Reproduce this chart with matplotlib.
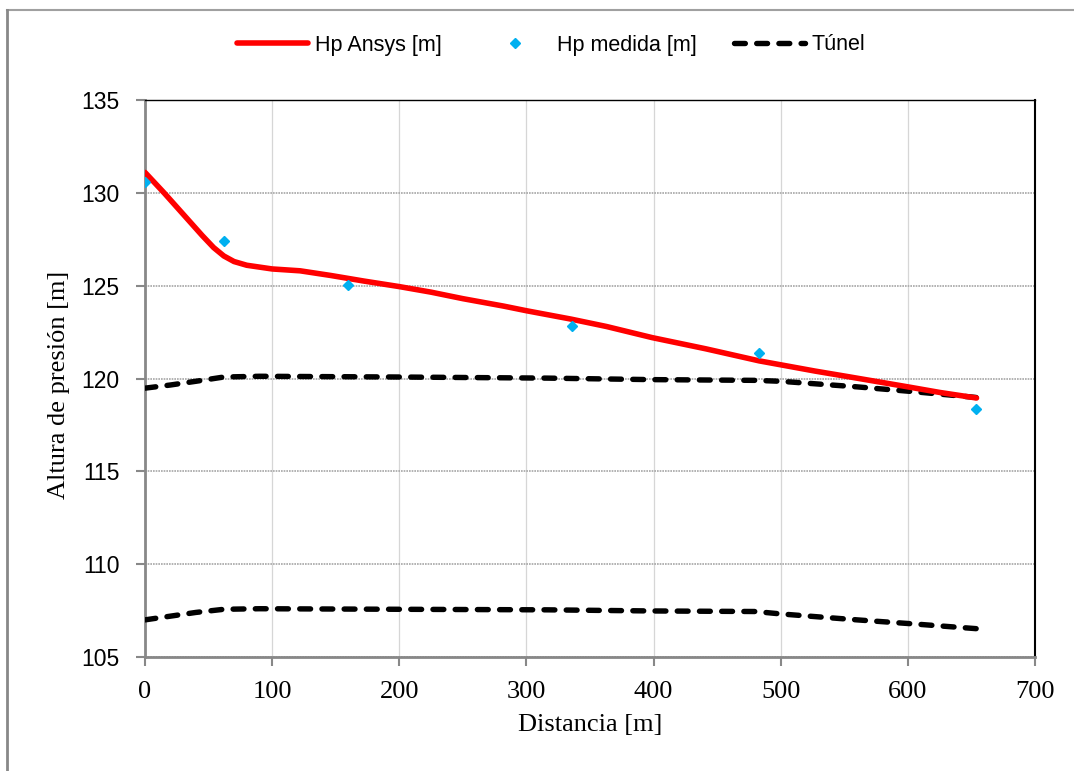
import matplotlib
matplotlib.use("Agg")
import matplotlib.pyplot as plt
from matplotlib.lines import Line2D

# Hp Ansys (simulated pressure head)
ansys_x = [0, 15, 30, 45, 54, 62, 70, 80, 100, 122, 146, 172, 200, 225, 250, 282, 300,
           335, 363, 399, 441, 483, 527, 553, 600, 625, 654]
ansys_y = [131.1, 130.0, 128.85, 127.7, 127.05, 126.6, 126.3, 126.1, 125.9, 125.8,
           125.55, 125.25, 124.95, 124.65, 124.3, 123.9, 123.65, 123.2, 122.8, 122.2,
           121.6, 120.95, 120.4, 120.1, 119.55, 119.25, 118.95]

# Hp medida (measured)
med_x = [0, 62.5, 160, 335.5, 483, 653.5]
med_y = [130.6, 127.4, 125.05, 122.85, 121.37, 118.35]

# tunnel crown / invert
tun_x = [0, 20, 40, 62, 90, 200, 317, 398, 480, 500, 560, 603, 655]
tun_top = [119.48, 119.65, 119.85, 120.08, 120.12, 120.08, 120.02, 119.94, 119.9,
           119.85, 119.55, 119.3, 118.97]
tun_bot = [107.0, 107.2, 107.4, 107.57, 107.6, 107.57, 107.54, 107.48, 107.45,
           107.32, 107.0, 106.79, 106.52]

serif = "Liberation Serif"
sans = "Liberation Sans"

fig = plt.figure(figsize=(10.74, 7.71), dpi=100)
ax = fig.add_axes([145/1074, 1-657/771, 890/1074, 557/771])

ax.plot(ansys_x, ansys_y, color="#FF0000", lw=4.0, solid_capstyle="round",
        solid_joinstyle="round", label="Hp Ansys [m]", zorder=4)
ax.plot(med_x, med_y, ls="none", marker="D", ms=5.3, color="#00B0F0",
        mec="#00B0F0", label="Hp medida [m]", zorder=5)
ax.plot(tun_x, tun_top, color="black", lw=3.9, dashes=(2.0, 2.1),
        dash_capstyle="round", label="Túnel", zorder=3)
ax.plot(tun_x, tun_bot, color="black", lw=3.9, dashes=(2.0, 2.1),
        dash_capstyle="round", zorder=3)

ax.set_xlim(0, 700)
ax.set_ylim(105, 135)
ax.set_xticks(range(0, 701, 100))
ax.set_yticks(range(105, 136, 5))

ax.yaxis.grid(True, color="#A6A6A6", lw=1.2, ls=(0, (1, 0.6)))
ax.xaxis.grid(True, color="#D6D6D6", lw=0.9)
ax.set_axisbelow(True)

for s in ["left", "bottom"]:
    ax.spines[s].set_color("#888888")
    ax.spines[s].set_linewidth(2.0)
ax.spines["top"].set_color("black")
ax.spines["top"].set_linewidth(1.0)
ax.spines["right"].set_color("black")
ax.spines["right"].set_linewidth(1.5)

ax.tick_params(axis="both", direction="out", length=6.5, width=1.5, color="#888888")
ax.tick_params(axis="y", pad=12)
ax.tick_params(axis="x", pad=11)
for t in ax.get_yticklabels():
    t.set_fontfamily(sans)
    t.set_fontsize(16.5)
for t in ax.get_xticklabels():
    t.set_fontfamily(serif)
    t.set_fontsize(19)

ax.set_xlabel("Distancia [m]", fontfamily=serif, fontsize=19)
ax.set_ylabel("Altura de presión [m]", fontfamily=serif, fontsize=19)
ax.xaxis.set_label_coords(0.5, -0.103)
ax.yaxis.set_label_coords(-0.084, 0.488)

leg = ax.legend(loc="center", bbox_to_anchor=(0.5135, 1-45/771),
                bbox_transform=fig.transFigure, ncol=3, frameon=False,
                prop={"family": sans, "size": 15.5}, handlelength=3.3,
                handletextpad=0.3, columnspacing=1.75, borderpad=0)

# outer frame of the chart area
fig.add_artist(Line2D([7/1074, 1], [1-10/771, 1-10/771], transform=fig.transFigure,
                      color="#A0A0A0", lw=1.5))
fig.add_artist(Line2D([7/1074, 7/1074], [0, 1-10/771], transform=fig.transFigure,
                      color="#888888", lw=2))

fig.savefig("out.png", dpi=100)
